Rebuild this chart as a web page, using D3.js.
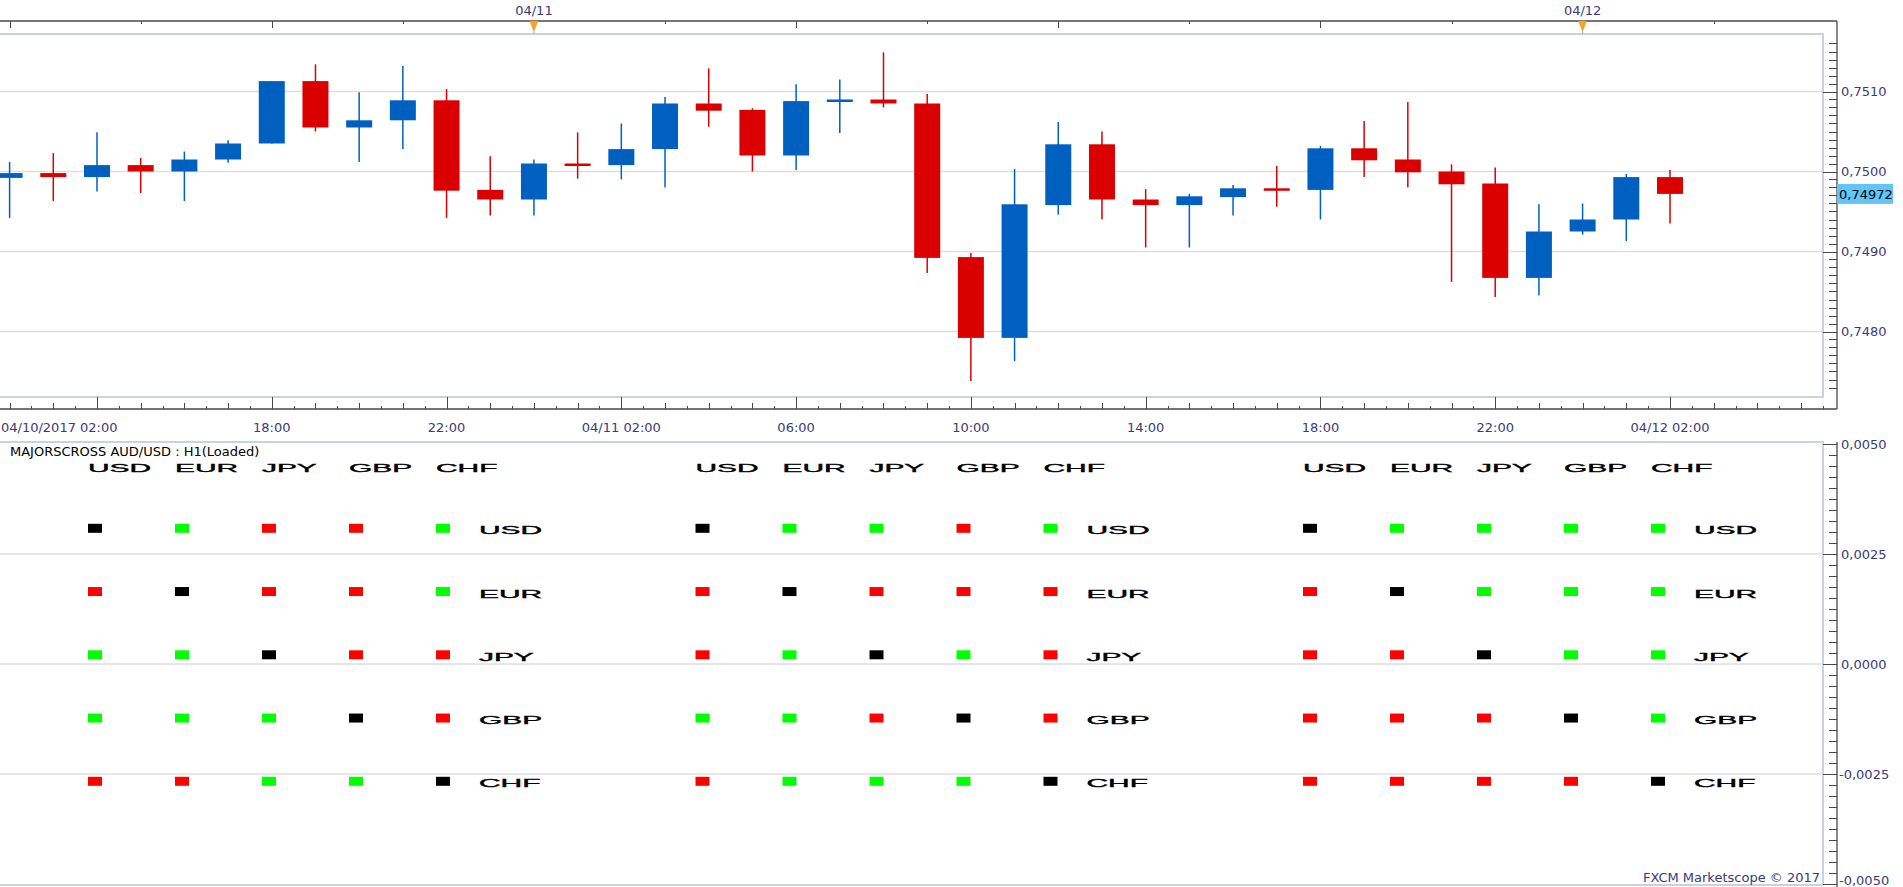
<!DOCTYPE html>
<html><head><meta charset="utf-8">
<script src="https://cdn.jsdelivr.net/npm/d3@7"></script>
<style>html,body{margin:0;padding:0;background:#fff;overflow:hidden}svg{display:block}</style>
</head><body><svg id="c" width="1903" height="887"></svg>
<script>
// ---------------- DATA ----------------
const times = ["2017-04-10T12:00","2017-04-10T13:00","2017-04-10T14:00","2017-04-10T15:00","2017-04-10T16:00","2017-04-10T17:00","2017-04-10T18:00","2017-04-10T19:00","2017-04-10T20:00","2017-04-10T21:00","2017-04-10T22:00","2017-04-10T23:00",
"2017-04-11T00:00","2017-04-11T01:00","2017-04-11T02:00","2017-04-11T03:00","2017-04-11T04:00","2017-04-11T05:00","2017-04-11T06:00","2017-04-11T07:00","2017-04-11T08:00","2017-04-11T09:00","2017-04-11T10:00","2017-04-11T11:00","2017-04-11T12:00","2017-04-11T13:00","2017-04-11T14:00","2017-04-11T15:00","2017-04-11T16:00","2017-04-11T17:00","2017-04-11T18:00","2017-04-11T19:00","2017-04-11T20:00","2017-04-11T21:00","2017-04-11T22:00","2017-04-11T23:00",
"2017-04-12T00:00","2017-04-12T01:00","2017-04-12T02:00"];
const open  = [0.74992,0.74998,0.74993,0.75008,0.75000,0.75015,0.75035,0.75113,0.75055,0.75064,0.75089,0.74977,0.74965,0.75010,0.75008,0.75028,0.75085,0.75077,0.75020,0.75087,0.75090,0.75085,0.74893,0.74792,0.74958,0.75034,0.74965,0.74958,0.74968,0.74979,0.74977,0.75029,0.75015,0.75000,0.74985,0.74867,0.74925,0.74940,0.74993];
const high  = [0.75012,0.75023,0.75049,0.75017,0.75025,0.75039,0.75113,0.75134,0.75099,0.75132,0.75103,0.75019,0.75015,0.75049,0.75060,0.75093,0.75129,0.75079,0.75109,0.75115,0.75149,0.75097,0.74898,0.75003,0.75062,0.75050,0.74978,0.74972,0.74983,0.75007,0.75032,0.75063,0.75087,0.75009,0.75005,0.74959,0.74960,0.74997,0.75002];
const low   = [0.74942,0.74963,0.74975,0.74973,0.74963,0.75011,0.75035,0.75050,0.75012,0.75028,0.74942,0.74945,0.74945,0.74991,0.74990,0.74980,0.75056,0.75000,0.75002,0.75048,0.75080,0.74873,0.74738,0.74763,0.74946,0.74940,0.74905,0.74905,0.74945,0.74956,0.74940,0.74993,0.74980,0.74862,0.74843,0.74845,0.74921,0.74913,0.74935];
const close = [0.74998,0.74993,0.75008,0.75000,0.75015,0.75035,0.75113,0.75055,0.75064,0.75089,0.74976,0.74965,0.75010,0.75008,0.75028,0.75085,0.75076,0.75020,0.75088,0.75090,0.75085,0.74892,0.74792,0.74959,0.75034,0.74965,0.74958,0.74969,0.74979,0.74977,0.75029,0.75014,0.74999,0.74984,0.74867,0.74925,0.74940,0.74993,0.74972];
const lastPrice = 0.74972;

const priceTicks = [0.7480, 0.7490, 0.7500, 0.7510];
const indTicks = [0.0050, 0.0025, 0.0000, -0.0025, -0.0050];

const timeLabelTimes = ["2017-04-10T18:00","2017-04-10T22:00","2017-04-11T02:00","2017-04-11T06:00","2017-04-11T10:00","2017-04-11T14:00","2017-04-11T18:00","2017-04-11T22:00","2017-04-12T02:00"];
const timeLabels = ["18:00","22:00","04/11 02:00","06:00","10:00","14:00","18:00","22:00","04/12 02:00"];
const firstLabel = "04/10/2017 02:00";
const dayMarkers = ["2017-04-11T00:00","2017-04-12T00:00"];
const dayLabels = ["04/11","04/12"];

const title = "MAJORSCROSS AUD/USD : H1(Loaded)";
const watermark = "FXCM Marketscope \u00A9 2017";
const currencies = ["USD","EUR","JPY","GBP","CHF"];
// 1 = stronger (green), -1 = weaker (red), 0 = self (black); rows = row label, cols = header
const matrix1 = [[0,1,-1,-1,1],[-1,0,-1,-1,1],[1,1,0,-1,-1],[1,1,1,0,-1],[-1,-1,1,1,0]];
const matrix2 = [[0,1,1,-1,1],[-1,0,-1,-1,-1],[-1,1,0,1,-1],[1,1,-1,0,-1],[-1,1,1,1,0]];
const matrix3 = [[0,1,1,1,1],[-1,0,1,1,1],[-1,-1,0,1,1],[-1,-1,-1,0,1],[-1,-1,-1,-1,0]];
const matrices = [matrix1, matrix2, matrix3];

// ---------------- LAYOUT ----------------
const svg = d3.select("#c");
const P = {x0:0, x1:1823, y0:34, y1:397};       // price plot frame
const L = {y0:442, y1:885};                     // indicator panel
const axisX = 1837, topAxisY = 21, botAxisY = 409;
const navy = "#3a3a78", gridC = "#dedede", frameC = "#c9d3df", tickC = "#474747";
const blue = "#0060c0", red = "#db0000";
const font = "'DejaVu Sans', Verdana, sans-serif";
const parse = d3.utcParse("%Y-%m-%dT%H:%M");

const x = d3.scaleUtc().domain([parse(times[0]), parse(times[times.length-1])]).range([9.6, 1670]);
const xRightTime = x.invert(P.x1);
const xLeftTime = x.invert(P.x0);
const y = d3.scaleLinear().domain([0.7480, 0.7510]).range([331.5, 91.5]);
const yi = d3.scaleLinear().domain([-0.005, 0.005]).range([884, 444]);

const candles = times.map((t,i)=>({t:parse(t), o:open[i], h:high[i], l:low[i], c:close[i]}));

const defs = svg.append("defs");
defs.append("clipPath").attr("id","pc").append("rect").attr("x",P.x0).attr("y",P.y0).attr("width",P.x1-P.x0).attr("height",P.y1-P.y0);

// -------- gridlines --------
const gridTimes = d3.utcHour.every(4).range(xLeftTime, xRightTime).filter(d=>d.getUTCHours()%4===2);
const g = svg.append("g");
g.selectAll(".vg").data(gridTimes).join("line")
  .attr("x1",d=>x(d)).attr("x2",d=>x(d)).attr("y1",P.y0).attr("y2",P.y1)
  .attr("stroke",gridC).attr("stroke-width",1.3);
g.selectAll(".hg").data(priceTicks).join("line")
  .attr("x1",P.x0).attr("x2",P.x1).attr("y1",d=>y(d)).attr("y2",d=>y(d))
  .attr("stroke",gridC).attr("stroke-width",1.3);
g.selectAll(".vg2").data(gridTimes).join("line")
  .attr("x1",d=>x(d)).attr("x2",d=>x(d)).attr("y1",L.y0).attr("y2",L.y1)
  .attr("stroke",gridC).attr("stroke-width",1.3);
g.selectAll(".hg2").data(indTicks.filter(v=>Math.abs(v)<0.004)).join("line")
  .attr("x1",P.x0).attr("x2",P.x1).attr("y1",d=>yi(d)).attr("y2",d=>yi(d))
  .attr("stroke",gridC).attr("stroke-width",1.3);

// -------- candles --------
const bw = 26;
const cg = svg.append("g").attr("clip-path","url(#pc)");
const cs = cg.selectAll("g.c").data(candles).join("g");
cs.append("line")
  .attr("x1",d=>x(d.t)).attr("x2",d=>x(d.t))
  .attr("y1",d=>y(d.h)).attr("y2",d=>y(d.l))
  .attr("stroke",d=>d.c>=d.o?blue:red).attr("stroke-width",1.5);
cs.append("rect")
  .attr("x",d=>x(d.t)-bw/2).attr("width",bw)
  .attr("y",d=>y(Math.max(d.o,d.c)))
  .attr("height",d=>Math.max(2.5, Math.abs(y(d.o)-y(d.c))))
  .attr("fill",d=>d.c>=d.o?blue:red);

// -------- frames --------
svg.append("rect").attr("x",P.x0-1).attr("y",P.y0).attr("width",P.x1-P.x0+1).attr("height",P.y1-P.y0)
  .attr("fill","none").attr("stroke",frameC).attr("stroke-width",2);
svg.append("rect").attr("x",P.x0-1).attr("y",L.y0).attr("width",P.x1-P.x0+1).attr("height",L.y1-L.y0)
  .attr("fill","none").attr("stroke",frameC).attr("stroke-width",2);

// -------- right price axis --------
const ax = svg.append("g");
ax.append("line").attr("x1",axisX).attr("x2",axisX).attr("y1",topAxisY).attr("y2",botAxisY).attr("stroke",tickC).attr("stroke-width",1.3);
const minorP = d3.range(7472, 7518).map(v=>v/10000).filter(v=>y(v)>P.y0+2 && y(v)<P.y1-2);
ax.selectAll(".mt").data(minorP).join("line")
  .attr("x1",d=>Math.abs(d*1000-Math.round(d*1000))<1e-6?P.x1:axisX-8).attr("x2",axisX)
  .attr("y1",d=>Math.round(y(d))+0.5).attr("y2",d=>Math.round(y(d))+0.5)
  .attr("stroke",tickC).attr("stroke-width",1);
ax.selectAll(".pl").data(priceTicks).join("text")
  .attr("x",axisX+4).attr("y",d=>y(d)).attr("dy","0.36em")
  .attr("font-family",font).attr("font-size",13).attr("fill",navy)
  .text(d=>d3.format(".4f")(d).replace(".",","));
ax.append("rect").attr("x",axisX).attr("y",y(lastPrice)-10).attr("width",56).attr("height",20).attr("fill","#62c5f8");
ax.append("text").attr("x",axisX+2).attr("y",y(lastPrice)).attr("dy","0.36em")
  .attr("font-family",font).attr("font-size",13).attr("fill","#000")
  .text(d3.format(".5f")(lastPrice).replace(".",","));

// -------- bottom time axis --------
const tx = svg.append("g");
tx.append("line").attr("x1",0).attr("x2",axisX).attr("y1",botAxisY).attr("y2",botAxisY).attr("stroke",tickC).attr("stroke-width",1.3);
const halfHours = d3.utcMinute.every(30).range(xLeftTime, xRightTime);
tx.selectAll(".bt").data(halfHours).join("line")
  .attr("x1",d=>Math.round(x(d))+0.5).attr("x2",d=>Math.round(x(d))+0.5)
  .attr("y1",d=> d.getUTCMinutes()!==0 ? botAxisY-3 : (d.getUTCHours()%4===2 ? P.y1 : botAxisY-6))
  .attr("y2",botAxisY).attr("stroke",tickC).attr("stroke-width",1);
tx.append("text").attr("x",1).attr("y",432).attr("font-family",font).attr("font-size",13).attr("fill",navy).text(firstLabel);
tx.selectAll(".bl").data(timeLabelTimes).join("text")
  .attr("x",d=>x(parse(d))).attr("y",432).attr("text-anchor","middle")
  .attr("font-family",font).attr("font-size",13).attr("fill",navy)
  .text((d,i)=>timeLabels[i]);

// -------- top date axis --------
const ta = svg.append("g");
ta.append("line").attr("x1",0).attr("x2",axisX).attr("y1",topAxisY).attr("y2",topAxisY).attr("stroke",tickC).attr("stroke-width",1.3);
const threeH = d3.utcHour.every(3).range(xLeftTime, xRightTime).filter(d=>d.getUTCHours()!==0);
ta.selectAll(".tt").data(threeH).join("line")
  .attr("x1",d=>Math.round(x(d))+0.5).attr("x2",d=>Math.round(x(d))+0.5)
  .attr("y1",topAxisY).attr("y2",d=>d.getUTCHours()%6===0?topAxisY+7:topAxisY+3)
  .attr("stroke",tickC).attr("stroke-width",1);
const dm = ta.selectAll(".dm").data(dayMarkers).join("g").attr("transform",d=>`translate(${x(parse(d))},0)`);
dm.append("line").attr("x1",0).attr("x2",0).attr("y1",topAxisY).attr("y2",P.y0).attr("stroke","#aaa").attr("stroke-width",1);
dm.append("path").attr("d",`M-4,${topAxisY} L4,${topAxisY} L0.5,${topAxisY+9} L-0.5,${topAxisY+9} Z`).attr("fill","#f6a525").attr("stroke","#e89418").attr("stroke-width",0.6);
dm.append("text").attr("y",15).attr("text-anchor","middle").attr("font-family",font).attr("font-size",13).attr("fill",navy)
  .text((d,i)=>dayLabels[i]);

// -------- indicator right axis --------
const ia = svg.append("g");
ia.append("line").attr("x1",axisX).attr("x2",axisX).attr("y1",L.y0).attr("y2",887).attr("stroke",tickC).attr("stroke-width",1.3);
const minorI = d3.range(-20, 21).map(v=>v*0.00025);
ia.selectAll(".it").data(minorI).join("line")
  .attr("x1",(d,i)=> (i%10===0)?P.x1:axisX-8).attr("x2",axisX)
  .attr("y1",d=>Math.round(yi(d))+0.5).attr("y2",d=>Math.round(yi(d))+0.5)
  .attr("stroke",tickC).attr("stroke-width",1);
ia.selectAll(".il").data(indTicks).join("text")
  .attr("x",d=>d<0?axisX+2:axisX+4)
  .attr("y",d=>Math.min(yi(d), 880)).attr("dy","0.36em")
  .attr("font-family",font).attr("font-size",13).attr("fill",navy)
  .text(d=>d3.format(".4f")(d).replace(".",",").replace("\u2212","-"));

// -------- indicator content --------
svg.append("text").attr("x",10).attr("y",456).attr("font-family",font).attr("font-size",13).attr("fill","#000").text(title);

const gridStarts = [88, 695.5, 1303];
const col = d3.scalePoint().domain(currencies).range([0, 348]);
const row = d3.scalePoint().domain(currencies).range([528.3, 781.3]);
const wideFont = "'Liberation Sans', Arial, sans-serif";
const colorOf = v => v===0 ? "#000000" : (v>0 ? "#00ff00" : "#ff0000");

matrices.forEach((m, k) => {
  const gx = gridStarts[k];
  const gg = svg.append("g").attr("transform",`translate(${gx},0)`);
  gg.selectAll(".hd").data(currencies).join("text")
    .attr("transform",d=>`translate(${col(d)},471.5) scale(2.6,1)`)
    .attr("font-family",wideFont).attr("font-size",11.5).attr("fill","#000")
    .attr("stroke","#000").attr("stroke-width",0.35).text(d=>d);
  gg.selectAll(".rl").data(currencies).join("text")
    .attr("transform",d=>`translate(391,${row(d)+6}) scale(2.6,1)`)
    .attr("font-family",wideFont).attr("font-size",11.5).attr("fill","#000")
    .attr("stroke","#000").attr("stroke-width",0.35).text(d=>d);
  const cells = [];
  currencies.forEach((r,ri)=>currencies.forEach((c,ci)=>cells.push({r, c, v:m[ri][ci]})));
  gg.selectAll(".sq").data(cells).join("rect")
    .attr("x",d=>col(d.c)).attr("y",d=>row(d.r)-4.5).attr("width",14).attr("height",9)
    .attr("fill",d=>colorOf(d.v));
});

// watermark
const wm = svg.append("g");
const wt = wm.append("text").attr("x",1820).attr("y",882).attr("text-anchor","end")
  .attr("font-family",font).attr("font-size",13).attr("fill",navy).text(watermark);
const bb = wt.node().getBBox();
wm.insert("rect","text").attr("x",bb.x-2).attr("y",869).attr("width",bb.width+2).attr("height",15).attr("fill","#fff");
</script></body></html>
